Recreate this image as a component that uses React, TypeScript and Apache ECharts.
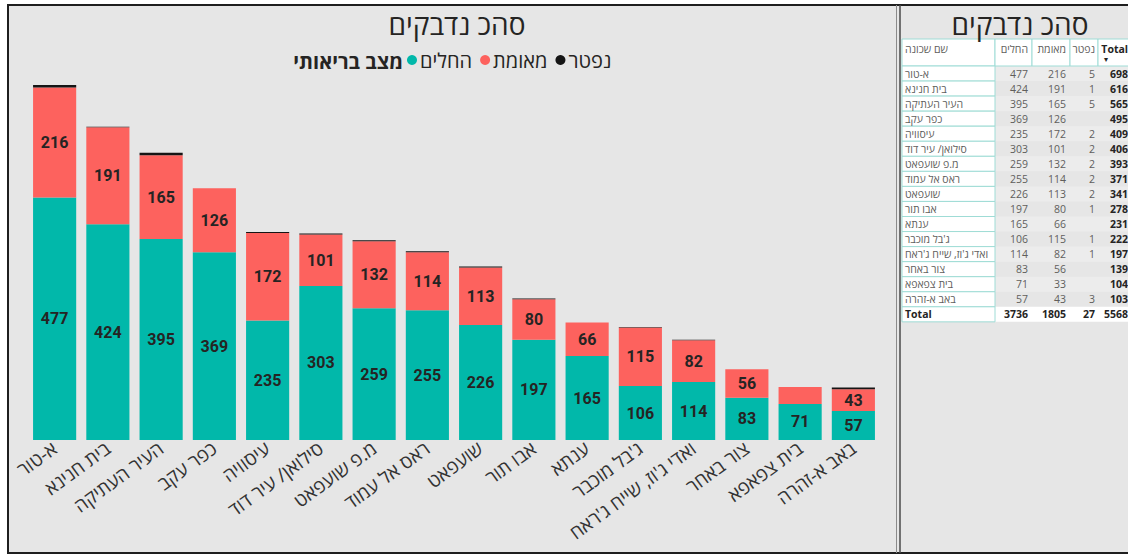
import React, { useEffect, useRef } from "react";
import * as echarts from "echarts";

const categories = [
  "א-טור",
  "בית חנינא",
  "העיר העתיקה",
  "כפר עקב",
  "עיסוויה",
  "סילואן/ עיר דוד",
  "מ.פ שועפאט",
  "ראס אל עמוד",
  "שועפאט",
  "אבו תור",
  "ענתא",
  "ג'בל מוכבר",
  "ואדי ג'וז, שייח ג'ראח",
  "צור באחר",
  "בית צפאפא",
  "באב א-זהרה",
];
const recovered = [477, 424, 395, 369, 235, 303, 259, 255, 226, 197, 165, 106, 114, 83, 71, 57];
const confirmed = [216, 191, 165, 126, 172, 101, 132, 114, 113, 80, 66, 115, 82, 56, 33, 43];
const deceased = [5, 1, 5, 0, 2, 2, 2, 2, 2, 1, 0, 1, 1, 0, 0, 3];
const seriesNames = ["החלים", "מאומת", "נפטר"];
const tableHeaders = ["שם שכונה", "החלים", "מאומת", "נפטר", "Total"];
const title = "סהכ נדבקים";
const legendTitle = "מצב בריאותי";

const TEAL = "#01B8AA";
const RED = "#FD625E";
const BLACK = "#151515";
const TXT = "#252423";
const HEB = "'Open Sans', 'DejaVu Sans', sans-serif";
const TFS = 10.5;

function buildTable(): any[] {
  const els: any[] = [];
  const colEdges = [902, 995, 1032, 1070, 1098, 1140];
  const headerTop = 39;
  const headerBottom = 66;
  const rowH = 15.05;
  const border = "#9fdcd6";
  for (let c = 0; c < 5; c++) {
    els.push({
      type: "rect",
      shape: { x: colEdges[c], y: headerTop, width: colEdges[c + 1] - colEdges[c], height: headerBottom - headerTop },
      style: { fill: "#ffffff", stroke: border, lineWidth: 1 },
      z: 5,
    });
  }
  const hy = 49;
  els.push({ type: "text", z: 6, style: { text: tableHeaders[0], x: 905, y: hy, fill: "#605e5c", fontSize: TFS, fontFamily: HEB, textAlign: "left", textVerticalAlign: "middle" } });
  const rightX = [1028, 1066, 1095, 1128];
  for (let c = 1; c < 5; c++) {
    els.push({
      type: "text",
      z: 6,
      style: {
        text: tableHeaders[c],
        x: rightX[c - 1],
        y: hy,
        fill: c === 4 ? TXT : "#605e5c",
        fontSize: TFS,
        fontWeight: c === 4 ? "bold" : "normal",
        fontFamily: HEB,
        textAlign: "right",
        textVerticalAlign: "middle",
      },
    });
  }
  els.push({ type: "text", z: 6, style: { text: "▾", x: 1106, y: 59, fill: TXT, fontSize: 8, textAlign: "center", textVerticalAlign: "middle" } });

  const rows = categories.map((name, i) => {
    const t = recovered[i] + confirmed[i] + deceased[i];
    return { name, vals: [recovered[i], confirmed[i], deceased[i], t] };
  });
  const totalRow = {
    name: "Total",
    vals: [
      recovered.reduce((a, b) => a + b, 0),
      confirmed.reduce((a, b) => a + b, 0),
      deceased.reduce((a, b) => a + b, 0),
      0,
    ],
  };
  totalRow.vals[3] = totalRow.vals[0] + totalRow.vals[1] + totalRow.vals[2];
  const all = [...rows, totalRow];
  all.forEach((r, i) => {
    const top = headerBottom + i * rowH;
    const cy = top + rowH / 2;
    const isTotal = i === all.length - 1;
    els.push({
      type: "rect",
      z: 5,
      shape: { x: colEdges[0], y: top, width: colEdges[1] - colEdges[0], height: rowH },
      style: { fill: "#ffffff", stroke: border, lineWidth: 1 },
    });
    if (!isTotal && i % 2 === 0) {
      els.push({
        type: "rect",
        z: 4,
        shape: { x: colEdges[1], y: top, width: colEdges[5] - colEdges[1], height: rowH },
        style: { fill: "#ececec" },
      });
    }
    if (isTotal) {
      els.push({
        type: "rect",
        z: 4,
        shape: { x: colEdges[1], y: top, width: colEdges[5] - colEdges[1], height: rowH },
        style: { fill: "#ffffff" },
      });
    }
    els.push({
      type: "text",
      z: 6,
      style: {
        text: r.name,
        x: 905,
        y: cy,
        fill: isTotal ? TXT : "#605e5c",
        fontSize: TFS,
        fontWeight: isTotal ? "bold" : "normal",
        fontFamily: HEB,
        textAlign: "left",
        textVerticalAlign: "middle",
      },
    });
    r.vals.forEach((v, c) => {
      if (v === 0) return;
      const bold = isTotal || c === 3;
      els.push({
        type: "text",
        z: 6,
        style: {
          text: String(v),
          x: rightX[c],
          y: cy,
          fill: bold ? TXT : "#605e5c",
          fontSize: TFS,
          fontWeight: bold ? "bold" : "normal",
          fontFamily: HEB,
          textAlign: "right",
          textVerticalAlign: "middle",
        },
      });
    });
  });
  return els;
}

export default function App() {
  const ref = useRef<HTMLDivElement>(null);
  useEffect(() => {
    if (!ref.current) return;
    const chart = echarts.init(ref.current, undefined, { renderer: "svg" });
    const labelStyle = {
      show: true,
      position: "inside",
      color: TXT,
      fontSize: 16,
      fontWeight: "bold",
      fontFamily: "Roboto, 'DejaVu Sans', sans-serif",
    };
    const option: any = {
      animation: false,
      backgroundColor: "#ffffff",
      title: [
        {
          text: title,
          left: 452,
          top: 5,
          textAlign: "center",
          textStyle: { fontSize: 28, fontWeight: "normal", color: TXT, fontFamily: HEB },
        },
        {
          text: title,
          left: 1015,
          top: 5,
          textAlign: "center",
          textStyle: { fontSize: 28, fontWeight: "normal", color: TXT, fontFamily: HEB },
        },
      ],
      legend: {
        data: seriesNames,
        left: 407,
        top: 50,
        padding: 0,
        icon: "circle",
        itemWidth: 10,
        itemHeight: 10,
        itemGap: 8,
        textStyle: { fontSize: 20, color: TXT, fontFamily: HEB, padding: [0, 0, 0, -2] },
      },
      grid: { left: 28, right: 248, top: 84, bottom: 116, containLabel: false },
      xAxis: {
        type: "category",
        data: categories,
        axisLine: { show: false },
        axisTick: { show: false },
        axisLabel: {
          interval: 0,
          rotate: 36,
          margin: 6,
          fontSize: 19,
          color: "#333333",
          fontFamily: HEB,
        },
      },
      yAxis: {
        type: "value",
        min: 0,
        max: 700,
        show: false,
        splitLine: { show: false },
      },
      series: [
        {
          name: seriesNames[0],
          type: "bar",
          stack: "s",
          barCategoryGap: "19%",
          itemStyle: { color: TEAL },
          label: labelStyle,
          data: recovered,
        },
        {
          name: seriesNames[1],
          type: "bar",
          stack: "s",
          itemStyle: { color: RED },
          label: labelStyle,
          data: confirmed.map((v) => (v < 35 ? { value: v, label: { show: false } } : v)),
        },
        {
          name: seriesNames[2],
          type: "bar",
          stack: "s",
          itemStyle: { color: BLACK },
          label: { show: false },
          data: deceased,
        },
      ],
      graphic: [
        {
          type: "rect",
          z: -10,
          shape: { x: 8, y: 5, width: 1130, height: 548 },
          style: { fill: "#e6e6e6", stroke: "#1e1e1e", lineWidth: 2 },
          silent: true,
        },
        {
          type: "line",
          z: 1,
          shape: { x1: 896.5, y1: 5, x2: 896.5, y2: 553 },
          style: { stroke: "#8a8a8a", lineWidth: 1 },
        },
        {
          type: "line",
          z: 1,
          shape: { x1: 900, y1: 5, x2: 900, y2: 553 },
          style: { stroke: "#4a4a4a", lineWidth: 1.5 },
        },
        {
          type: "text",
          z: 10,
          style: {
            text: legendTitle,
            x: 403,
            y: 61,
            fill: TXT,
            fontSize: 20,
            fontWeight: "bold",
            fontFamily: HEB,
            textAlign: "right",
            textVerticalAlign: "middle",
          },
        },
        ...buildTable(),
      ],
    };
    chart.setOption(option);
    return () => chart.dispose();
  }, []);
  return (
    <div
      ref={ref}
      style={{ position: "absolute", left: 0, top: 0, width: 1128, height: 556 }}
    />
  );
}
